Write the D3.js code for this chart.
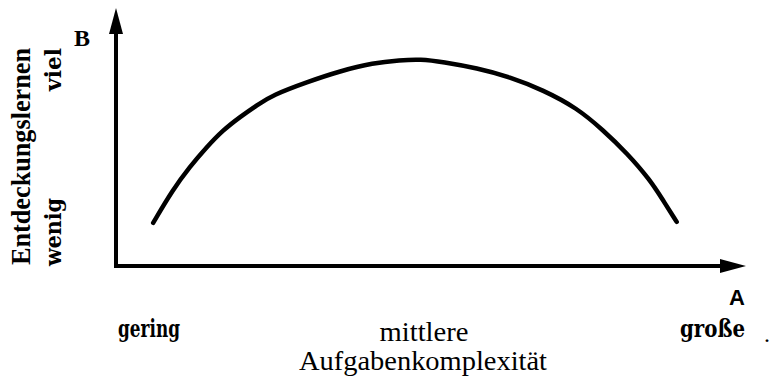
<!DOCTYPE html>
<html>
<head>
<meta charset="utf-8">
<script src="https://cdn.jsdelivr.net/npm/d3@7"></script>
<style>
  html, body { margin: 0; padding: 0; background: #fff; }
  .serif { font-family: "Liberation Serif", "Times New Roman", serif; }
  .slab { font-family: "DejaVu Serif", serif; font-weight: bold; }
</style>
</head>
<body>
<div id="chart"></div>
<script>
// curve (x: Aufgabenkomplexität 0-100, y: Entdeckungslernen 0-100)
const complexity = [5.9, 9.0, 11.7, 14.4, 17.0, 19.7, 22.4, 24.9, 30.3, 35.6, 40.8, 45.1,
  48.3, 51.9, 57.3, 62.5, 67.8, 73.2, 77.3, 81.1, 84.8, 86.8, 89.0];
const discovery = [16.7, 29.5, 38.4, 46.1, 52.7, 57.8, 62.4, 66.3, 71.3, 75.6, 78.7, 79.8,
  80.2, 79.1, 76.7, 73.3, 68.2, 61.2, 52.7, 43.8, 33.3, 25.6, 17.1];

const xLevels = ['gering', 'mittlere', 'große'];
const yLevels = ['wenig', 'viel'];
const xTitle = 'Aufgabenkomplexität';
const yTitle = 'Entdeckungslernen';

const width = 771,
  height = 376;

const x = d3.scaleLinear().domain([0, 100]).range([116, 746]);
const y = d3.scaleLinear().domain([0, 100]).range([266, 8]);

const svg = d3.select('#chart').append('svg')
  .attr('width', width).attr('height', height);

// axes with arrow heads
const [x0, x1] = x.range();
const [y0, y1] = y.range();

svg.append('line')
  .attr('x1', x0).attr('y1', y0 + 2).attr('x2', x0).attr('y2', y1 + 22)
  .attr('stroke', '#000').attr('stroke-width', 4);
svg.append('path')
  .attr('d', `M${x0},${y1} L${x0 - 7},${y1 + 26} L${x0 + 7},${y1 + 26} Z`)
  .attr('fill', '#000');

svg.append('line')
  .attr('x1', x0 - 2).attr('y1', y0).attr('x2', x1 - 22).attr('y2', y0)
  .attr('stroke', '#000').attr('stroke-width', 4);
svg.append('path')
  .attr('d', `M${x1},${y0} L${x1 - 26},${y0 - 7} L${x1 - 26},${y0 + 7} Z`)
  .attr('fill', '#000');

// curve
const line = d3.line()
  .x((d, i) => x(complexity[i]))
  .y(d => y(d))
  .curve(d3.curveBasis);

svg.append('path')
  .datum(discovery)
  .attr('d', line)
  .attr('fill', 'none')
  .attr('stroke', '#000')
  .attr('stroke-width', 4.5)
  .attr('stroke-linecap', 'round');

// axis letters
svg.append('text').attr('class', 'serif')
  .attr('x', 74).attr('y', 46)
  .attr('font-size', 24).attr('font-weight', 'bold')
  .text('B');

svg.append('text')
  .attr('x', 745).attr('y', 305)
  .attr('text-anchor', 'end')
  .attr('font-family', '"Liberation Sans", Arial, sans-serif')
  .attr('font-weight', 'bold').attr('font-size', 22)
  .text('A');

// y labels (rotated)
svg.append('text').attr('class', 'serif')
  .attr('transform', 'translate(30,265) rotate(-90)')
  .attr('font-size', 28).attr('font-weight', 'bold')
  .attr('textLength', 217).attr('lengthAdjust', 'spacingAndGlyphs')
  .text(yTitle);

const yLabelPos = [{ start: 266, len: 68 }, { start: 91, len: 43 }];
yLevels.forEach((t, i) => {
  svg.append('text').attr('class', 'slab')
    .attr('transform', `translate(61,${yLabelPos[i].start}) rotate(-90)`)
    .attr('font-size', 23)
    .attr('textLength', yLabelPos[i].len).attr('lengthAdjust', 'spacingAndGlyphs')
    .text(t);
});

// x labels
svg.append('text').attr('class', 'slab')
  .attr('x', 118).attr('y', 337)
  .attr('font-size', 24)
  .attr('textLength', 62).attr('lengthAdjust', 'spacingAndGlyphs')
  .text(xLevels[0]);

svg.append('text').attr('class', 'serif')
  .attr('x', 424).attr('y', 341)
  .attr('text-anchor', 'middle')
  .attr('font-size', 27)
  .attr('textLength', 89).attr('lengthAdjust', 'spacingAndGlyphs')
  .text(xLevels[1]);

svg.append('text').attr('class', 'slab')
  .attr('x', 680).attr('y', 337)
  .attr('font-size', 24)
  .attr('textLength', 65).attr('lengthAdjust', 'spacingAndGlyphs')
  .text(xLevels[2]);

svg.append('text').attr('class', 'serif')
  .attr('x', 423).attr('y', 370)
  .attr('text-anchor', 'middle')
  .attr('font-size', 27)
  .attr('textLength', 248).attr('lengthAdjust', 'spacingAndGlyphs')
  .text(xTitle);

svg.append('text').attr('class', 'serif')
  .attr('x', 764).attr('y', 342)
  .attr('font-size', 24)
  .text('.');
</script>
</body>
</html>
